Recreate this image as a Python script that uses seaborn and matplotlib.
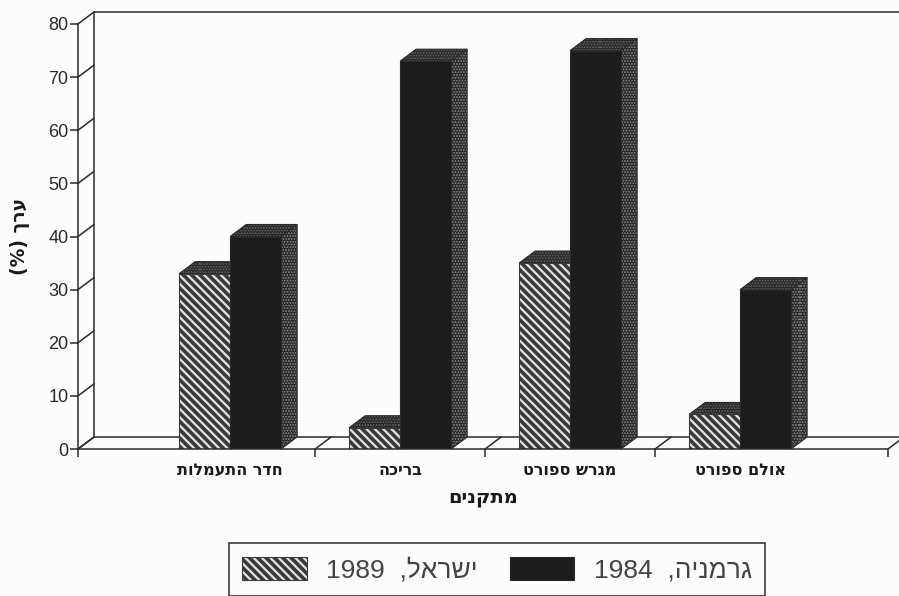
import pandas as pd
import seaborn as sns
import matplotlib.pyplot as plt
from matplotlib.patches import Polygon

# hebrew is kept in reading order, matplotlib has no bidi so it gets flipped when drawn
facilities = ['חדר התעמלות', 'בריכה', 'מגרש ספורט', 'אולם ספורט']
israel_1989 = [33, 4, 35, 6.5]
germany_1984 = [40, 73, 75, 30]
series_names = ['ישראל', 'גרמניה']
series_years = ['1989', '1984']
y_ticks = [0, 10, 20, 30, 40, 50, 60, 70, 80]
x_label = 'מתקנים'
y_label = 'ערך'


def flip(s):
    return s[::-1]


sns.set_style('white')
plt.rcParams['font.family'] = ['Liberation Sans', 'DejaVu Sans']
plt.rcParams['hatch.linewidth'] = 2.6

INK = '#2a2a2a'
PAPER = '#fcfcfc'
W, H = 899, 596

df = pd.DataFrame({
    'facility': facilities * 2,
    'value': israel_1989 + germany_1984,
    'series': ['1989'] * 4 + ['1984'] * 4,
})

fig = plt.figure(figsize=(W / 100, H / 100), dpi=100, facecolor=PAPER)
ax = fig.add_axes([78 / W, 1 - 449 / H, 810 / W, 425 / H], facecolor=PAPER)

sns.barplot(data=df, x='facility', y='value', hue='series', hue_order=['1989', '1984'],
            order=facilities, width=0.6, gap=0, palette=['#e2e2e2', '#1c1c1c'],
            edgecolor=INK, linewidth=0.8, legend=False, ax=ax)
ax.set_xlim(-0.895, 3.87)
ax.set_ylim(0, 80)

# depth of the fake 3d, px converted to data units
dx = 16 / (810 / 4.765)
dy = 12 / (425 / 80)

for bar in ax.containers[0]:
    bar.set_hatch('\\\\\\\\')
    bar.set_edgecolor('#3a3a3a')

for cont in ax.containers:
    for bar in cont:
        x0, w, h = bar.get_x(), bar.get_width(), bar.get_height()
        top = [(x0, h), (x0 + w, h), (x0 + w + dx, h + dy), (x0 + dx, h + dy)]
        side = [(x0 + w, 0), (x0 + w + dx, dy), (x0 + w + dx, h + dy), (x0 + w, h)]
        for pts, shade in ((top, '#666666'), (side, '#8a8a8a')):
            ax.add_patch(Polygon(pts, closed=True, facecolor=shade, edgecolor=INK, hatch='......',
                                 linewidth=0.8, zorder=0.9, clip_on=False))

# walls and floor
x_left, x_right = ax.get_xlim()
wall = dict(color=INK, lw=1.1, zorder=0.5, clip_on=False)
ax.plot([x_left + dx, x_left + dx], [dy, 80 + dy], **wall)
ax.plot([x_left + dx, x_right + dx], [80 + dy, 80 + dy], **wall)
ax.plot([x_left + dx, x_right + dx], [dy, dy], **wall)
for t in y_ticks:
    ax.plot([x_left, x_left + dx], [t, t + dy], **wall)

x_bounds = [x_left, 0.5, 1.5, 2.5, x_right]
for t in x_bounds:
    ax.plot([t, t + dx], [0, dy], **wall)

for s in ['top', 'right']:
    ax.spines[s].set_visible(False)
for s in ['left', 'bottom']:
    ax.spines[s].set_color(INK)
    ax.spines[s].set_linewidth(1.1)

ax.set_xticks(x_bounds)
ax.set_xticklabels([])
ax.set_xticks(range(len(facilities)), [flip(f) for f in facilities], minor=True)
ax.tick_params(axis='x', which='major', bottom=True, length=6, width=1.1, color=INK)
ax.tick_params(axis='x', which='minor', bottom=False, pad=8)
for lab in ax.get_xticklabels(minor=True):
    lab.set_fontfamily('DejaVu Sans')
    lab.set_fontweight('bold')
    lab.set_fontsize(11.5)
    lab.set_color('#1a1a1a')

ax.set_yticks(y_ticks)
ax.tick_params(axis='y', left=True, length=6, width=1.1, color=INK, pad=1, labelsize=13, labelcolor='#2a2a2a')

ax.set_ylabel('')
ax.set_xlabel(flip(x_label), fontsize=14, family='DejaVu Sans', fontweight='bold', color='#1a1a1a', labelpad=7)
fig.text(20 / W, 1 - 236 / H, '(%) ' + flip(y_label), rotation=90, ha='center', va='center',
         fontsize=13.5, family='DejaVu Sans', fontweight='bold', color='#1a1a1a')

handles = [ax.containers[0][0], ax.containers[1][0]]
labels = [y + '  ,' + flip(n) for y, n in zip(series_years, series_names)]
leg = fig.legend(handles, labels, ncol=2, loc='center', bbox_to_anchor=(497 / W, 1 - 569.5 / H),
                 frameon=True, fancybox=False, framealpha=1, facecolor=PAPER, edgecolor=INK,
                 prop={'family': 'Liberation Sans', 'size': 19},
                 handlelength=2.45, handleheight=1.0, handletextpad=0.75, columnspacing=1.2,
                 borderpad=0.5, labelcolor='#444444')
leg.get_frame().set_linewidth(1.1)

fig.savefig('out.png', dpi=100, facecolor=PAPER)
